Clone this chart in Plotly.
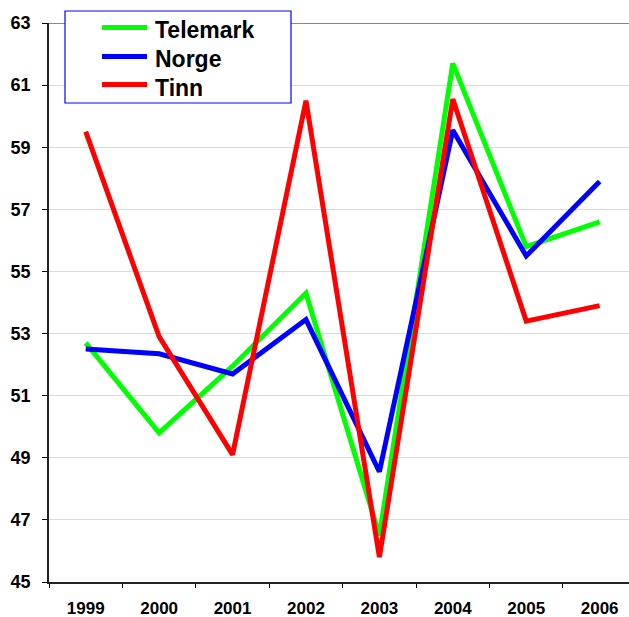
import plotly.graph_objects as go

years = ["1999", "2000", "2001", "2002", "2003", "2004", "2005", "2006"]
telemark = [52.7, 49.8, 51.95, 54.3, 46.5, 61.7, 55.8, 56.6]
norge = [52.5, 52.35, 51.7, 53.45, 48.55, 59.55, 55.5, 57.9]
tinn = [59.5, 52.9, 49.1, 60.5, 45.8, 60.55, 53.4, 53.9]
y_ticks = [45, 47, 49, 51, 53, 55, 57, 59, 61, 63]

series_names = ["Telemark", "Norge", "Tinn"]
series_vals = [telemark, norge, tinn]
series_colors = ["#00ff00", "#0000ff", "#ff0000"]

fig = go.Figure()
for name, vals, col in zip(series_names, series_vals, series_colors):
    fig.add_trace(go.Scatter(x=years, y=vals, mode="lines", name=name,
                             line=dict(color=col, width=5)))

W, H = 629, 617
ml, mr, mt, mb = 49, 0, 23, 35
pw, ph = W - ml - mr, H - mt - mb


def px_x(p):
    return (p - ml) / pw


def px_y(p):
    return (H - mb - p) / ph


fig.update_layout(
    width=W, height=H,
    margin=dict(l=ml, r=mr, t=mt, b=mb, autoexpand=False),
    paper_bgcolor="white", plot_bgcolor="white",
    font=dict(family="Liberation Sans, Arial, sans-serif", color="black"),
    showlegend=False,
    xaxis=dict(type="category", range=[-0.5, 7.4], showgrid=False,
               showline=True, linecolor="#222222", linewidth=1.5,
               ticks="outside", tickson="boundaries", ticklen=4, tickcolor="black",
               ticklabelstandoff=10,
               tickfont=dict(size=17, weight="bold"), zeroline=False),
    yaxis=dict(range=[45, 63], tickvals=y_ticks, showgrid=True, gridcolor="#d6d6f8", gridwidth=1,
               showline=True, linecolor="#222222", linewidth=1.5,
               ticks="outside", ticklen=5, tickcolor="black",
               ticklabelstandoff=8,
               tickfont=dict(size=18, weight="bold"), zeroline=False),
)
fig.add_shape(type="line", xref="paper", yref="y", x0=0, x1=1, y0=63, y1=63,
              line=dict(color="#888888", width=2), layer="below")
# legend frame
fig.add_shape(type="rect", xref="paper", yref="paper",
              x0=px_x(65), x1=px_x(291), y0=px_y(103), y1=px_y(11),
              line=dict(color="#0000ff", width=1.2), fillcolor="white", layer="above")
row_line_y = [27.5, 56.5, 84.5]
row_text_y = [30, 59, 88]
for name, col, ly, ty in zip(series_names, series_colors, row_line_y, row_text_y):
    fig.add_shape(type="line", xref="paper", yref="paper",
                  x0=px_x(102), x1=px_x(147), y0=px_y(ly), y1=px_y(ly),
                  line=dict(color=col, width=5), layer="above")
    fig.add_annotation(xref="paper", yref="paper", x=px_x(153), y=px_y(ty),
                       xanchor="left", yanchor="middle", showarrow=False,
                       text="<b>%s</b>" % name,
                       font=dict(size=23, color="black", family="Liberation Sans, Arial, sans-serif"))
fig.write_html("out.html", config={"displayModeBar": False},
               post_script="document.body.style.margin='0';")
